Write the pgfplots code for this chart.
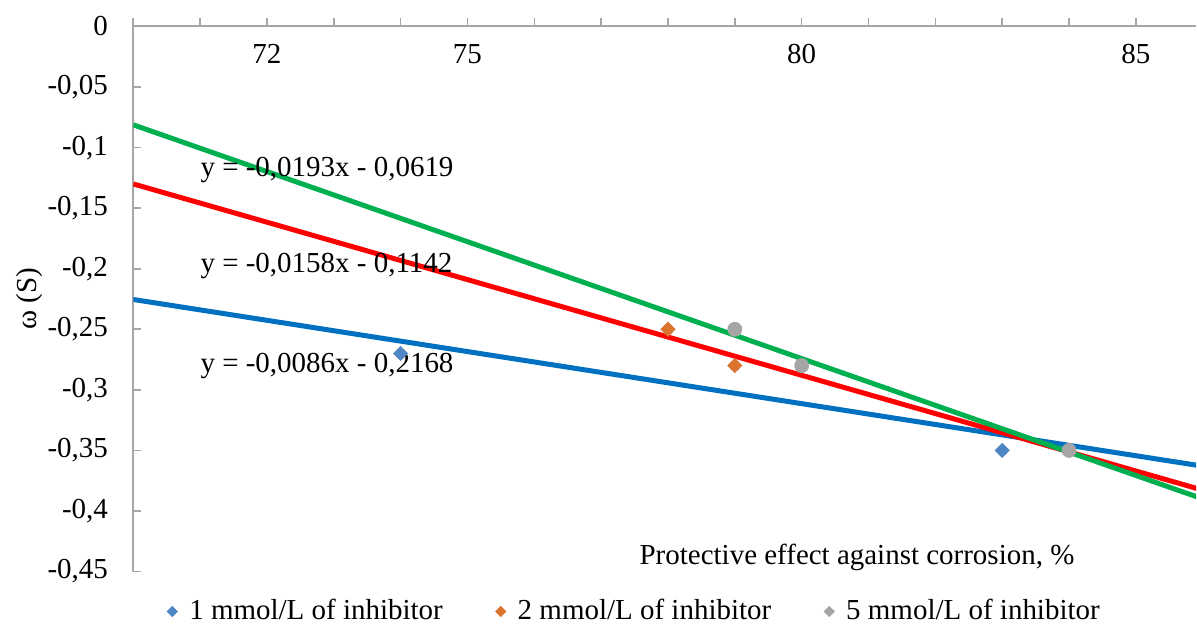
\documentclass[border=0pt]{standalone}
\usepackage{fontspec}
\setmainfont{Liberation Serif}
\usepackage{pgfplots}
\pgfplotsset{compat=1.18}
\definecolor{lblue}{HTML}{0070C0}
\definecolor{lred}{HTML}{FF0000}
\definecolor{lgreen}{HTML}{00B050}
\definecolor{mblue}{HTML}{4F86C6}
\definecolor{morange}{HTML}{DC7430}
\definecolor{mgrey}{HTML}{A5A5A5}
\definecolor{myellow}{HTML}{FFC000}
\definecolor{xblue}{HTML}{4472C4}
\definecolor{axgrey}{HTML}{A6A6A6}
\begin{document}
\fontsize{14.5}{17}\selectfont
\begin{tikzpicture}
\begin{axis}[
  scale only axis, width=531.8pt, height=272.75pt,
  xmin=70, xmax=85.9, ymin=-0.45, ymax=0,
  axis x line*=top, axis y line*=left,
  axis line style={draw=axgrey, line width=1pt, -},
  xtick={70,...,85},
  xticklabels={,,72,,,75,,,,,80,,,,,85},
  xtick align=outside, ytick align=inside,
  major tick length=4pt,
  every tick/.style={draw=axgrey, line width=0.8pt},
  xticklabel style={anchor=center, yshift=-17.75pt, font=\fontsize{14.5}{17}\selectfont},
  ytick={0,-0.05,-0.1,-0.15,-0.2,-0.25,-0.3,-0.35,-0.4,-0.45},
  yticklabels={0,{-0,05},{-0,1},{-0,15},{-0,2},{-0,25},{-0,3},{-0,35},{-0,4},{-0,45}},
  yticklabel style={anchor=east, inner sep=0pt, xshift=-12.5pt, font=\fontsize{14.5}{17}\selectfont},
  ylabel={ω (S)},
  ylabel style={at={(axis description cs:-0.0972,0.5)}, anchor=center, font=\fontsize{14.5}{17}\selectfont},
  xlabel={Protective effect against corrosion, \%},
  xlabel style={at={(axis description cs:0.681,0.0257)}, anchor=center, font=\fontsize{14.5}{17}\selectfont},
  legend columns=3,
  legend style={at={(0.4707,-0.0733)}, anchor=center, draw=none, fill=none,
    inner sep=0pt, font=\fontsize{14.5}{17}\selectfont,
    nodes={inner sep=0pt},
    /tikz/every odd column/.append style={column sep=6pt},
    /tikz/every even column/.append style={column sep=26.5pt}},
  legend image code/.code={\draw[#1, mark size=1.77pt] plot coordinates {(4pt,0pt)};},
]
% hidden helper series (x markers)
\addplot[only marks, mark=x, mark size=2.75pt, draw=myellow, line width=0.6pt, forget plot]
  coordinates {(74,-0.27) (83,-0.35)};
\addplot[only marks, mark=x, mark size=2.75pt, draw=xblue, line width=0.6pt, forget plot]
  coordinates {(78,-0.25) (79,-0.28) (84,-0.35)};
% data series
\addplot[only marks, mark=square*, mark size=2.47pt, mark options={rotate=45, draw=mblue, fill=mblue}, color=mblue]
  coordinates {(74,-0.27) (83,-0.35)};
\addlegendentry{1 mmol/L of inhibitor}
\addplot[only marks, mark=square*, mark size=2.47pt, mark options={rotate=45, draw=morange, fill=morange}, color=morange]
  coordinates {(78,-0.25) (79,-0.28)};
\addlegendentry{2 mmol/L of inhibitor}
\addplot[only marks, mark=*, mark size=3.5pt, mark options={draw=mgrey, fill=mgrey}, color=mgrey,
  legend image code/.code={\draw[mgrey, fill=mgrey, mark=square*, mark size=1.77pt, mark options={rotate=45, draw=mgrey, fill=mgrey}] plot coordinates {(4pt,0pt)};}]
  coordinates {(79,-0.25) (80,-0.28) (84,-0.35)};
\addlegendentry{5 mmol/L of inhibitor}
% trendlines
\addplot[lblue, line width=2.5pt, forget plot] coordinates {(70,-0.2254) (86,-0.3630)};
\addplot[lred, line width=2.5pt, forget plot] coordinates {(70,-0.1300) (86,-0.3828)};
\addplot[lgreen, line width=2.5pt, forget plot] coordinates {(70,-0.0812) (86,-0.3900)};
% equations
\node[anchor=west, inner sep=0pt] at (axis cs:71.0,-0.1184) {y = -0,0193x - 0,0619};
\node[anchor=west, inner sep=0pt] at (axis cs:71.0,-0.1976) {y = -0,0158x - 0,1142};
\node[anchor=west, inner sep=0pt] at (axis cs:71.0,-0.2801) {y = -0,0086x - 0,2168};
\end{axis}
\path ([xshift=-66.7pt,yshift=-27pt]current axis.south west) rectangle ([yshift=13.25pt]current axis.north east);
\end{tikzpicture}
\end{document}
